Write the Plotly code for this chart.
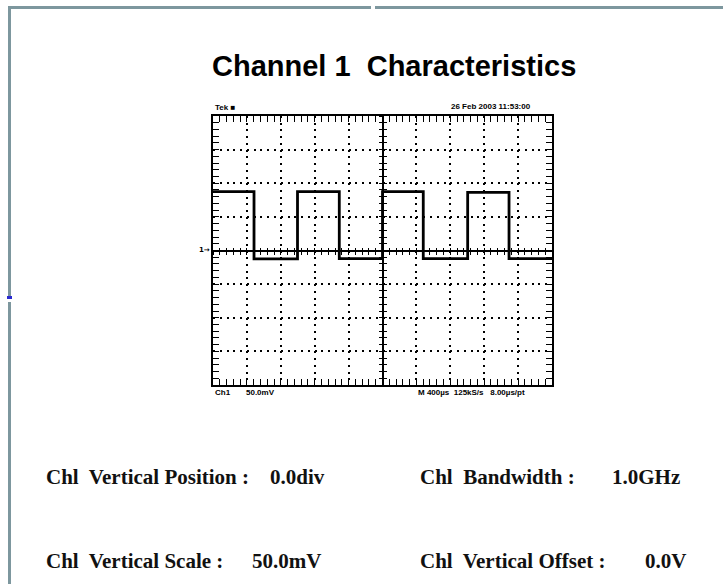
import plotly.graph_objects as go

# ---- data ----
edge_times_us = [0, 484, 997, 1490, 2000, 2481, 3005, 3493, 4000]
levels_mV = [87.5, -12.5, 87.5, -12.0, 87.5, -12.0, 86.5, -12.0, -12.0]

x_range_us = [0, 4000]
y_range_mV = [-200, 200]
x_div_us = 400
y_div_mV = 50

title_text = "Channel 1  Characteristics"
info_labels = ["Chl  Vertical Position :", "Chl  Bandwidth :", "Chl  Vertical Scale :", "Chl  Vertical Offset :"]
info_values = ["0.0div", "1.0GHz", "50.0mV", "0.0V"]
scope_top_left = "Tek ■"
scope_top_right = "26 Feb 2003 11:53:00"
scope_bottom_left = ["Ch1", "50.0mV"]
scope_bottom_right = "M 400µs  125kS/s   8.00µs/pt"
ground_marker = "1→"

# ---- geometry ----
W, H = 723, 584
L, R, T, B = 213, 552, 116, 385
PW, PH = R - L, B - T


def px(xp):
    return (xp - L) / PW


def py(yp):
    return (B - yp) / PH


fig = go.Figure()
fig.add_trace(go.Scatter(x=edge_times_us, y=levels_mV, mode="lines", line_shape="hv",
                         line=dict(color="black", width=2.8), showlegend=False, hoverinfo="skip"))
for xa, ya in [("x2", "y"), ("x3", "y"), ("x", "y2"), ("x", "y3")]:
    fig.add_trace(go.Scatter(x=[None], y=[None], xaxis=xa, yaxis=ya, showlegend=False, hoverinfo="skip"))

xdot = "2px,%.3fpx" % (PH / 40 - 2)
ydot = "2px,%.3fpx" % (PW / 50 - 2)

base_x = dict(range=x_range_us, dtick=x_div_us, tick0=0, showticklabels=False, zeroline=False,
              fixedrange=True)
base_y = dict(range=y_range_mV, dtick=y_div_mV, tick0=0, showticklabels=False, zeroline=False,
              fixedrange=True)

fig.update_layout(
    width=W, height=H,
    margin=dict(l=L, r=W - R, t=T, b=H - B, pad=0),
    paper_bgcolor="white", plot_bgcolor="white",
    xaxis=dict(**base_x, showgrid=True, gridcolor="black", gridwidth=1.6, griddash=xdot,
               showline=True, linecolor="black", linewidth=2, mirror="allticks",
               ticks="inside", ticklen=6, tickwidth=1, tickcolor="black",
               minor=dict(dtick=x_div_us / 5, ticks="inside", ticklen=3, tickwidth=1,
                          tickcolor="black", showgrid=False)),
    yaxis=dict(**base_y, showgrid=True, gridcolor="black", gridwidth=1.6, griddash=ydot,
               showline=True, linecolor="black", linewidth=2, mirror="allticks",
               ticks="inside", ticklen=6, tickwidth=1, tickcolor="black",
               minor=dict(dtick=y_div_mV / 5, ticks="inside", ticklen=3, tickwidth=1,
                          tickcolor="black", showgrid=False)),
    xaxis2=dict(**base_x, overlaying="x", anchor="free", position=0.5, side="bottom",
                showgrid=False, showline=True, linecolor="black", linewidth=2,
                ticks="outside", ticklen=3, tickwidth=1, tickcolor="black",
                minor=dict(dtick=x_div_us / 5, ticks="outside", ticklen=3, tickwidth=1,
                           tickcolor="black", showgrid=False)),
    xaxis3=dict(**base_x, overlaying="x", anchor="free", position=0.5, side="bottom",
                showgrid=False, showline=False,
                ticks="inside", ticklen=3, tickwidth=1, tickcolor="black",
                minor=dict(dtick=x_div_us / 5, ticks="inside", ticklen=3, tickwidth=1,
                           tickcolor="black", showgrid=False)),
    yaxis2=dict(**base_y, overlaying="y", anchor="free", position=0.5, side="left",
                showgrid=False, showline=True, linecolor="black", linewidth=2,
                ticks="outside", ticklen=3, tickwidth=1, tickcolor="black",
                minor=dict(dtick=y_div_mV / 5, ticks="outside", ticklen=3, tickwidth=1,
                           tickcolor="black", showgrid=False)),
    yaxis3=dict(**base_y, overlaying="y", anchor="free", position=0.5, side="left",
                showgrid=False, showline=False,
                ticks="inside", ticklen=3, tickwidth=1, tickcolor="black",
                minor=dict(dtick=y_div_mV / 5, ticks="inside", ticklen=3, tickwidth=1,
                           tickcolor="black", showgrid=False)),
)

# page frame
frame = "#7d979e"
shapes = [
    dict(type="rect", xref="paper", yref="paper", x0=px(8), x1=px(11), y0=py(8), y1=py(584),
         fillcolor=frame, line=dict(width=0), layer="above"),
    dict(type="rect", xref="paper", yref="paper", x0=px(8), x1=px(371), y0=py(6), y1=py(9),
         fillcolor=frame, line=dict(width=0), layer="above"),
    dict(type="rect", xref="paper", yref="paper", x0=px(375), x1=px(723), y0=py(6), y1=py(9),
         fillcolor=frame, line=dict(width=0), layer="above"),
    dict(type="rect", xref="paper", yref="paper", x0=px(7), x1=px(12), y0=py(296), y1=py(299),
         fillcolor="#2a2ad0", line=dict(width=0), layer="above"),
    dict(type="rect", xref="paper", yref="paper", x0=px(7), x1=px(12), y0=py(299), y1=py(302),
         fillcolor="white", line=dict(width=0), layer="above"),
]
fig.update_layout(shapes=shapes)

ann = []
ann.append(dict(text="<b>%s</b>" % title_text, x=px(394), y=py(66), xref="paper", yref="paper",
                xanchor="center", yanchor="middle", showarrow=False,
                font=dict(family="Liberation Sans, Arial, sans-serif", size=29, color="black")))

small = dict(family="Liberation Sans Narrow, Arial Narrow, Liberation Sans, sans-serif", size=8, color="black")
ann.append(dict(text="<b>%s</b>" % scope_top_left, x=px(213), y=py(107), xref="paper", yref="paper",
                xanchor="left", yanchor="middle", showarrow=False, font=small))
ann.append(dict(text="<b>%s</b>" % scope_top_right, x=px(533), y=py(106), xref="paper", yref="paper",
                xanchor="right", yanchor="middle", showarrow=False, font=small))
ann.append(dict(text="<b>%s</b>" % scope_bottom_left[0], x=px(213), y=py(392), xref="paper", yref="paper",
                xanchor="left", yanchor="middle", showarrow=False, font=small))
ann.append(dict(text="<b>%s</b>" % scope_bottom_left[1], x=px(244), y=py(392), xref="paper", yref="paper",
                xanchor="left", yanchor="middle", showarrow=False, font=small))
ann.append(dict(text="<b>%s</b>" % scope_bottom_right, x=px(416), y=py(392), xref="paper", yref="paper",
                xanchor="left", yanchor="middle", showarrow=False, font=small))
ann.append(dict(text="<b>%s</b>" % ground_marker, x=px(212), y=py(250), xref="paper", yref="paper",
                xanchor="right", yanchor="middle", showarrow=False,
                font=dict(family="DejaVu Sans, sans-serif", size=7, color="black")))

serif = dict(family="Liberation Serif, Times New Roman, serif", size=21, color="#111111")
label_pos = [(44, 477), (418, 477), (44, 561), (418, 561)]
value_pos = [(268, 477), (610, 477), (250, 561), (643, 561)]
for lab, val, (lx, ly), (vx, vy) in zip(info_labels, info_values, label_pos, value_pos):
    ann.append(dict(text="<b>%s</b>" % lab, x=px(lx), y=py(ly), xref="paper", yref="paper",
                    xanchor="left", yanchor="middle", showarrow=False, font=serif))
    ann.append(dict(text="<b>%s</b>" % val, x=px(vx), y=py(vy), xref="paper", yref="paper",
                    xanchor="left", yanchor="middle", showarrow=False, font=serif))
fig.update_layout(annotations=ann)

fig.write_html("out.html", config={"displayModeBar": False},
               post_script="document.body.style.margin='0px';")
